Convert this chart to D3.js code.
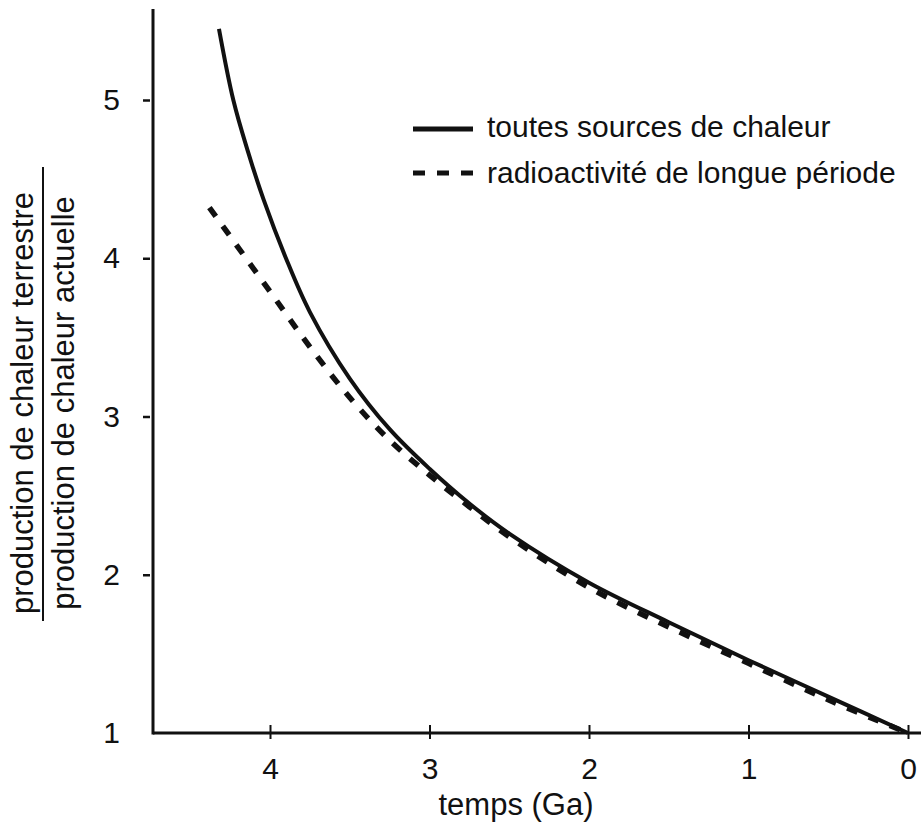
<!DOCTYPE html>
<html>
<head>
    <meta charset="utf-8">
    <title>Production de chaleur terrestre</title>
    <script src="https://d3js.org/d3.v7.min.js"></script>
    <style>
        body {
            margin: 0;
            padding: 0;
            background-color: #ffffff;
            font-family: "Liberation Sans", Arial, sans-serif;
        }
        .label { fill: #111; }
    </style>
</head>
<body>
    <div id="chart"></div>

    <script>
        // Temps (Ga) et rapport production / production actuelle
        var totalTime = [4.32, 4.23, 4.14, 4.04, 3.9, 3.75, 3.5, 3.25, 3.0, 2.75, 2.5, 2.0, 1.5, 1.0, 0.5, 0];
        var totalValue = [5.45, 5.0, 4.68, 4.37, 4.0, 3.66, 3.24, 2.92, 2.67, 2.45, 2.26, 1.95, 1.70, 1.46, 1.23, 1.0];

        var radioTime = [4.38, 4.0, 3.75, 3.5, 3.25, 3.0, 2.75, 2.5, 2.0, 1.5, 1.0, 0.5, 0];
        var radioValue = [4.32, 3.79, 3.44, 3.12, 2.85, 2.63, 2.43, 2.24, 1.92, 1.67, 1.44, 1.21, 1.0];

        var xTicks = [4, 3, 2, 1, 0];
        var yTicks = [1, 2, 3, 4, 5];

        var legendLabels = ["toutes sources de chaleur", "radioactivité de longue période"];

        var W = 921, H = 826;
        var axisLeft = 153, axisBottom = 733, axisTop = 9;

        var svg = d3.select("#chart")
            .append("svg")
            .attr("width", W)
            .attr("height", H);

        // scales
        var x = d3.scaleLinear().domain([4, 0]).range([270, 908]);
        var y = d3.scaleLinear().domain([1, 5]).range([axisBottom, 100]);

        // x axis
        var xAxis = svg.append("g")
            .attr("transform", "translate(0," + axisBottom + ")")
            .call(d3.axisBottom(x).tickValues(xTicks).tickSize(0).tickPadding(25).tickFormat(d3.format("d")));
        xAxis.select(".domain").remove();
        xAxis.selectAll(".tick line")
            .attr("y1", -8).attr("y2", 6)
            .attr("stroke", "#111").attr("stroke-width", 2);
        xAxis.selectAll(".tick text")
            .attr("font-size", "30px")
            .attr("font-family", "Liberation Sans, Arial, sans-serif")
            .attr("fill", "#111");
        svg.append("line")
            .attr("x1", axisLeft).attr("x2", W)
            .attr("y1", axisBottom).attr("y2", axisBottom)
            .attr("stroke", "#111").attr("stroke-width", 3);

        // y axis
        var yAxis = svg.append("g")
            .attr("transform", "translate(" + axisLeft + ",0)")
            .call(d3.axisLeft(y).tickValues(yTicks).tickSize(0).tickPadding(33).tickFormat(d3.format("d")));
        yAxis.select(".domain").remove();
        yAxis.selectAll(".tick line")
            .attr("x1", -10).attr("x2", -3)
            .attr("stroke", "#111").attr("stroke-width", 2.5);
        yAxis.selectAll(".tick")
            .filter(function(d) { return d === 1; })
            .select("line").remove();
        yAxis.selectAll(".tick text")
            .attr("font-size", "30px")
            .attr("font-family", "Liberation Sans, Arial, sans-serif")
            .attr("fill", "#111");
        svg.append("line")
            .attr("x1", axisLeft).attr("x2", axisLeft)
            .attr("y1", axisTop).attr("y2", axisBottom + 1.5)
            .attr("stroke", "#111").attr("stroke-width", 3);

        // axis titles
        svg.append("text")
            .attr("class", "label")
            .attr("x", 516)
            .attr("y", 815)
            .attr("text-anchor", "middle")
            .style("font-size", "31px")
            .text("temps (Ga)");

        var yMid = 403;
        svg.append("text")
            .attr("class", "label")
            .attr("transform", "translate(33," + yMid + ") rotate(-90)")
            .attr("text-anchor", "middle")
            .style("font-size", "31px")
            .text("production de chaleur terrestre");
        svg.append("line")
            .attr("x1", 43).attr("x2", 43)
            .attr("y1", 167).attr("y2", 621)
            .attr("stroke", "#111").attr("stroke-width", 2);
        svg.append("text")
            .attr("class", "label")
            .attr("transform", "translate(74," + yMid + ") rotate(-90)")
            .attr("text-anchor", "middle")
            .style("font-size", "31px")
            .text("production de chaleur actuelle");

        // curves
        var line = d3.line()
            .x(function(d) { return x(d[0]); })
            .y(function(d) { return y(d[1]); })
            .curve(d3.curveCatmullRom);

        var totalData = totalTime.map(function(t, i) { return [t, totalValue[i]]; });
        var radioData = radioTime.map(function(t, i) { return [t, radioValue[i]]; });

        svg.append("path")
            .datum(radioData)
            .attr("d", line)
            .attr("fill", "none")
            .attr("stroke", "#111")
            .attr("stroke-width", 5.5)
            .attr("stroke-dasharray", "11,12");

        svg.append("path")
            .datum(totalData)
            .attr("d", line)
            .attr("fill", "none")
            .attr("stroke", "#111")
            .attr("stroke-width", 4);

        // legend
        var legend = svg.append("g").attr("transform", "translate(413,129)");
        legend.append("line")
            .attr("x1", 0).attr("x2", 60).attr("y1", 0).attr("y2", 0)
            .attr("stroke", "#111").attr("stroke-width", 5);
        legend.append("line")
            .attr("x1", 0).attr("x2", 60).attr("y1", 44).attr("y2", 44)
            .attr("stroke", "#111").attr("stroke-width", 5)
            .attr("stroke-dasharray", "12,12");
        legend.selectAll("text.leg")
            .data(legendLabels)
            .enter().append("text")
            .attr("class", "label leg")
            .attr("x", 74)
            .attr("y", function(d, i) { return 8 + i * 46; })
            .style("font-size", "30px")
            .text(function(d) { return d; });
    </script>
</body>
</html>
